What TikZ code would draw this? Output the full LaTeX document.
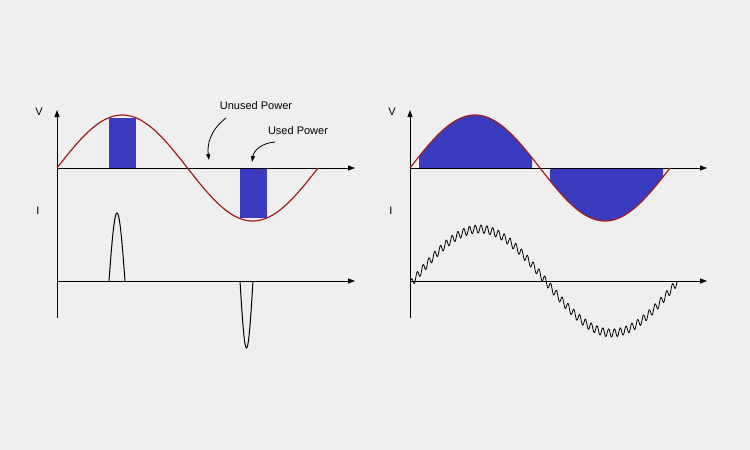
\documentclass[tikz,border=0pt]{standalone}
\usepackage{fontspec}
\setmainfont{Liberation Sans}
\usetikzlibrary{arrows.meta}
\definecolor{bg}{HTML}{EFEFEF}
\definecolor{pblue}{HTML}{3B3BC0}
\definecolor{pred}{HTML}{A31C1C}
\begin{document}
\begin{tikzpicture}[x=1pt,y=-1pt,
  axis/.style={line width=0.9pt,-{Triangle[length=7pt,width=5pt]}},
  vsine/.style={pred,line width=1.2pt},
  lbl/.style={font=\fontsize{11}{12}\selectfont},
  call/.style={line width=0.8pt,-{Triangle[length=6pt,width=4pt]}}]
\fill[bg] (0,0) rectangle (750,450);
\useasboundingbox (0,0) rectangle (750,450);
% ---------- left panel ----------
\fill[pblue] (109,{168-53*sin(360/261*(109-57))}) rectangle (136,168);
\fill[pblue] (240,168) rectangle (267,{168-53*sin(360/261*(267-57))});
\coordinate (L0) at (57,318);
\coordinate (LV) at (57,110);
\coordinate (LVo) at (57,168);
\coordinate (LVe) at (355,168);
\coordinate (LIo) at (57,281);
\coordinate (LIe) at (355,281);
\draw[axis] (L0) -- (LV);
\draw[axis] (LVo) -- (LVe);
\draw[axis] (LIo) -- (LIe);
\draw[vsine] plot[domain=57:318,samples=120] (\x,{168-53*sin(360/261*(\x-57))});
\draw[line width=1pt] plot[domain=109:125,samples=40] (\x,{281-68*sin(180/16*(\x-109))});
\draw[line width=1pt] plot[domain=240:253,samples=40] (\x,{281+67*sin(180/13*(\x-240))});
\node[lbl] (lv) at (39,112) {V};
\node[lbl] (li) at (38,211) {I};
\node[lbl] (unused) at (256,106) {Unused Power};
\node[lbl] (used) at (298,131) {Used Power};
\coordinate (ua) at (209,160);
\coordinate (ub) at (252,162);
\draw[call] (226,118) .. controls (210,130) and (207,145) .. (ua);
\draw[call] (275,142) .. controls (262,143) and (254,150) .. (ub);
% ---------- right panel ----------
\fill[pblue] (419,168) -- plot[domain=419:532,samples=80] (\x,{168-53*sin(360/260*(\x-410))}) -- (532,168) -- cycle;
\fill[pblue] (550,168) -- plot[domain=550:663,samples=80] (\x,{168-53*sin(360/260*(\x-410))}) -- (663,168) -- cycle;
\coordinate (R0) at (410,318);
\coordinate (RV) at (410,110);
\coordinate (RVo) at (410,168);
\coordinate (RVe) at (707,168);
\coordinate (RIo) at (410,281);
\coordinate (RIe) at (707,281);
\draw[axis] (R0) -- (RV);
\draw[axis] (RVo) -- (RVe);
\draw[axis] (RIo) -- (RIe);
\draw[vsine] plot[domain=410:670,samples=120] (\x,{168-53*sin(360/260*(\x-410))});
\draw[line width=0.8pt] plot[domain=411:677,samples=1000] (\x,{281-52*sin(360/265*(\x-413))-4*sin(360/5.8*mod(\x-410,5.8))});
\node[lbl] (rv) at (392,112) {V};
\node[lbl] (ri) at (391,211) {I};
\end{tikzpicture}
\end{document}
